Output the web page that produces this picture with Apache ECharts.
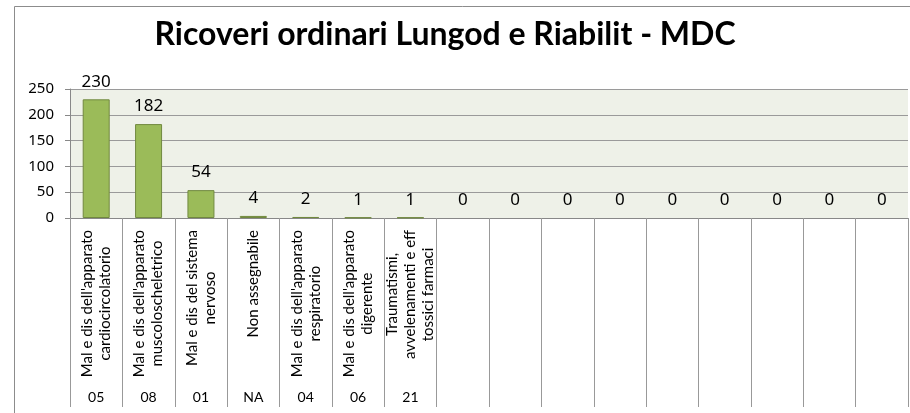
<!DOCTYPE html>
<html>
<head>
<meta charset="utf-8">
<script src="https://cdn.jsdelivr.net/npm/echarts@6/dist/echarts.min.js"></script>
<style>
  html, body { margin: 0; padding: 0; background: #fff; }
  #chart-container { width: 910px; height: 413px; }
</style>
</head>
<body>
<div id="chart-container"></div>
<script>
// dati del grafico
const categorie = [
  "Mal e dis dell'apparato\ncardiocircolatorio",
  "Mal e dis dell'apparato\nmuscoloscheletrico",
  "Mal e dis del sistema\nnervoso",
  "Non assegnabile",
  "Mal e dis dell'apparato\nrespiratorio",
  "Mal e dis dell'apparato\ndigerente",
  "Traumatismi,\navvelenamenti e eff\ntossici farmaci",
  '', '', '', '', '', '', '', '', ''
];
const codici = ['05', '08', '01', 'NA', '04', '06', '21', '', '', '', '', '', '', '', '', ''];
const ricoveri = [230, 182, 54, 4, 2, 1, 1, 0, 0, 0, 0, 0, 0, 0, 0, 0];
const yTicks = [0, 50, 100, 150, 200, 250];

const chartOption = {
  animation: false,
  title: {
    text: 'Ricoveri ordinari Lungod e Riabilit - MDC',
    left: 440,
    top: 14,
    textAlign: 'center',
    textStyle: { fontFamily: 'Lato', fontWeight: 'bold', fontSize: 32, color: '#000' }
  },
  graphic: [{
    type: 'rect',
    shape: { x: 14.5, y: 6.5, width: 1000, height: 1000 },
    style: { fill: 'none', stroke: '#8c8c8c', lineWidth: 1 },
    z: 100
  }],
  grid: { left: 70, right: 2, top: 89, bottom: 195, show: true, backgroundColor: '#eef1e8', borderWidth: 0 },
  xAxis: [{
    type: 'category',
    data: categorie,
    axisLine: { lineStyle: { color: '#888', width: 1 } },
    axisTick: { show: true, interval: 0, length: 189, lineStyle: { color: '#999' } },
    axisLabel: {
      interval: 0,
      rotate: 90,
      margin: 12,
      color: '#000',
      formatter: v => v ? v.split('\n').map(s => '{c|' + s + '}').join('\n') : '',
      rich: { c: { align: 'center', fontFamily: 'Lato', fontSize: 15, lineHeight: 18, color: '#000' } }
    }
  }, {
    type: 'category',
    data: codici,
    position: 'bottom',
    offset: 164,
    axisLine: { show: false },
    axisTick: { show: false },
    axisLabel: { interval: 0, margin: 8, fontFamily: 'Lato', fontSize: 14, color: '#000' }
  }],
  yAxis: {
    type: 'value',
    min: yTicks[0],
    max: yTicks[yTicks.length - 1],
    interval: 50,
    axisLine: { show: true, lineStyle: { color: '#888' } },
    axisTick: { show: true, length: 5, lineStyle: { color: '#888' } },
    axisLabel: { margin: 16, fontFamily: 'Noto Sans', fontSize: 15, color: '#000' },
    splitLine: { lineStyle: { color: '#9a9a9a', width: 1 } }
  },
  series: [{
    type: 'bar',
    // le barre a zero non hanno bordo
    data: ricoveri.map(v => v === 0 ? { value: v, itemStyle: { borderWidth: 0 } } : v),
    barWidth: 27,
    itemStyle: { color: '#9bbb59', borderColor: '#71893f', borderWidth: 1 },
    label: {
      show: true,
      position: 'top',
      distance: 9,
      fontFamily: 'Noto Sans',
      fontSize: 17,
      color: '#000'
    }
  }]
};

const chartContainer = document.getElementById('chart-container');
const chart = echarts.init(chartContainer);
chart.setOption(chartOption);
</script>
</body>
</html>
